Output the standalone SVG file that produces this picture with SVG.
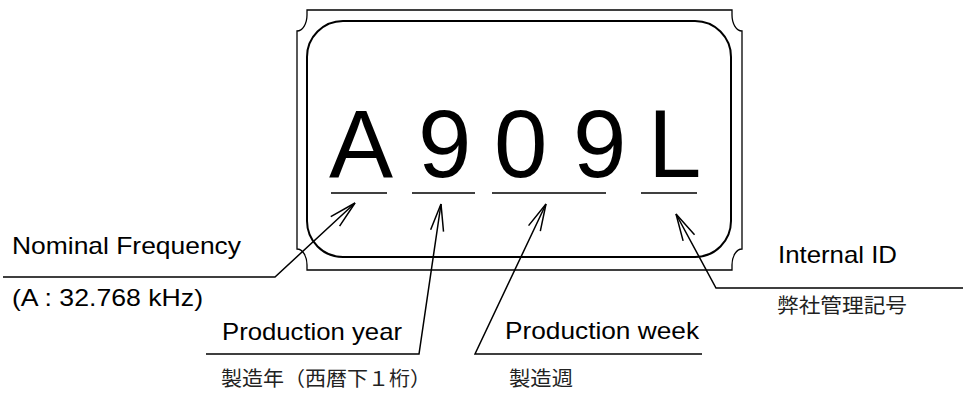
<svg xmlns="http://www.w3.org/2000/svg" width="963" height="394" viewBox="0 0 963 394">
<style>
.ln{fill:none;stroke:#000;stroke-width:1.5}
.ul{fill:none;stroke:#000;stroke-width:1.3}
.big{font-family:"Liberation Sans",Arial,sans-serif;font-size:96px;fill:#000}
.lbl{font-family:"Liberation Sans",Arial,sans-serif;font-size:24px;fill:#000}
.jp{font-family:"Noto Sans CJK JP","Noto Sans CJK SC",sans-serif;font-size:20px;fill:#222}
</style>
<defs>
<marker id="ah" markerUnits="userSpaceOnUse" markerWidth="40" markerHeight="20" refX="30" refY="10" orient="auto" overflow="visible">
<path d="M3,3.5 L30,10 L3,16.5" fill="none" stroke="#000" stroke-width="1.5"/>
</marker>
</defs>
<g id="chip">
<path d="M307,10 H732 L732,15 A10,16 0 0 0 742,31 V249 A10,16 0 0 0 732,265 L732,270 H307 L307,265 A10,16 0 0 0 297,249 V31 A10,16 0 0 0 307,15 Z" fill="none" stroke="#000" stroke-width="1.3"/>
<rect x="307" y="21" width="424" height="236" rx="36" ry="36" fill="none" stroke="#000" stroke-width="2"/>
<text class="big" x="329" y="177">A</text>
<text class="big" x="418" y="177">9</text>
<text class="big" x="494" y="177">0</text>
<text class="big" x="573" y="177">9</text>
<text class="big" x="648" y="177">L</text>
<line class="ul" x1="331" y1="193" x2="387" y2="193"/>
<line class="ul" x1="412" y1="193" x2="475" y2="193"/>
<line class="ul" x1="492" y1="193" x2="606" y2="193"/>
<line class="ul" x1="641" y1="193" x2="697" y2="193"/>
</g>
<g id="connectors">
<polyline class="ln" points="3,277 275,277 355,203" marker-end="url(#ah)"/>
<polyline class="ln" points="206,354 419,354 441,204" marker-end="url(#ah)"/>
<polyline class="ln" points="702,354 475,354 546,204" marker-end="url(#ah)"/>
<polyline class="ln" points="963,288 716,288 676,214" marker-end="url(#ah)"/>
</g>
<g id="nominal-frequency">
<text class="lbl" x="12" y="254" textLength="229" lengthAdjust="spacingAndGlyphs">Nominal Frequency</text>
<text class="lbl" x="12" y="306" textLength="191" lengthAdjust="spacingAndGlyphs">(A : 32.768 kHz)</text>
</g>
<g id="production-year">
<text class="lbl" x="222" y="340" textLength="180" lengthAdjust="spacingAndGlyphs">Production year</text>
<text class="jp" x="221" y="386" textLength="210" lengthAdjust="spacingAndGlyphs">製造年（西暦下１桁）</text>
</g>
<g id="production-week">
<text class="lbl" x="505" y="339" textLength="194" lengthAdjust="spacingAndGlyphs">Production week</text>
<text class="jp" x="509" y="386" textLength="64" lengthAdjust="spacingAndGlyphs">製造週</text>
</g>
<g id="internal-id">
<text class="lbl" x="778" y="263" textLength="119" lengthAdjust="spacingAndGlyphs">Internal ID</text>
<text class="jp" x="777" y="313" textLength="130" lengthAdjust="spacingAndGlyphs">弊社管理記号</text>
</g>
</svg>
